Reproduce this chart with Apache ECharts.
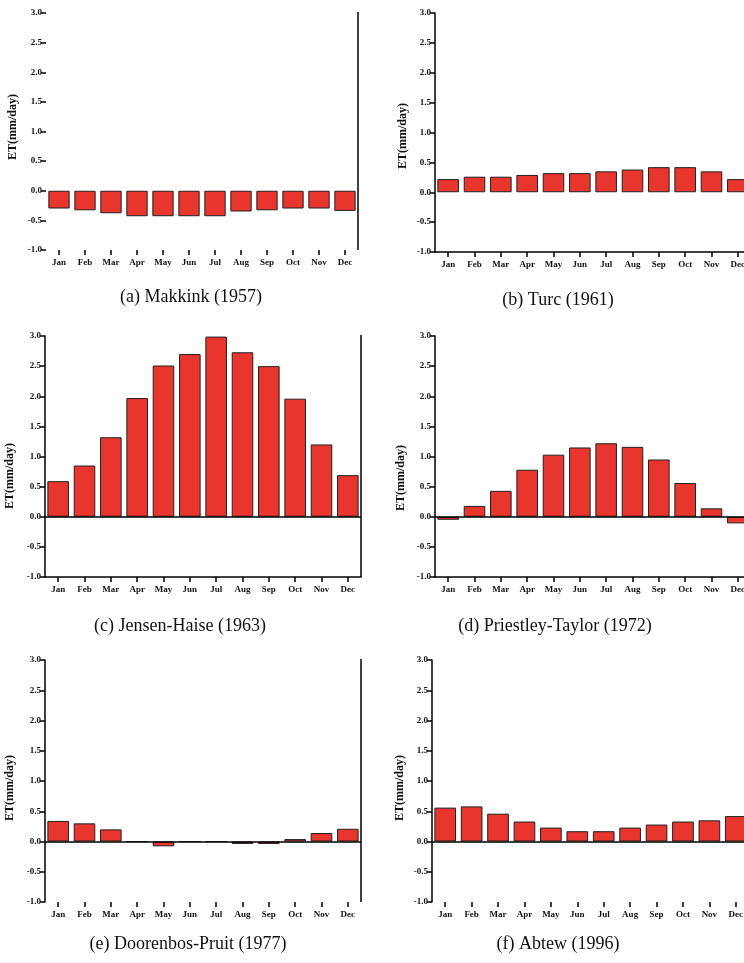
<!DOCTYPE html>
<html>
<head>
<meta charset="utf-8">
<script src="https://cdn.jsdelivr.net/npm/echarts@6/dist/echarts.min.js"></script>
<style>
  html, body { margin: 0; padding: 0; background: #ffffff; }
  #chart { width: 744px; height: 963px; }
</style>
</head>
<body>
<div id="chart"></div>
<script>
// Monthly mean ET (mm/day) by method
const months = ['Jan', 'Feb', 'Mar', 'Apr', 'May', 'Jun', 'Jul', 'Aug', 'Sep', 'Oct', 'Nov', 'Dec'];
const makkink = [-0.30, -0.33, -0.38, -0.43, -0.43, -0.43, -0.43, -0.35, -0.33, -0.30, -0.30, -0.34];
const turc = [0.22, 0.26, 0.26, 0.29, 0.32, 0.32, 0.35, 0.38, 0.42, 0.42, 0.35, 0.22];
const jensenHaise = [0.59, 0.85, 1.32, 1.97, 2.51, 2.70, 2.99, 2.73, 2.50, 1.96, 1.20, 0.69];
const priestleyTaylor = [-0.05, 0.18, 0.43, 0.78, 1.03, 1.15, 1.22, 1.16, 0.95, 0.56, 0.14, -0.11];
const doorenbosPruit = [0.34, 0.30, 0.20, 0.00, -0.08, 0.00, 0.00, -0.04, -0.04, 0.04, 0.14, 0.21];
const abtew = [0.56, 0.58, 0.46, 0.33, 0.23, 0.17, 0.17, 0.23, 0.28, 0.33, 0.35, 0.42];
const captions = ['(a) Makkink (1957)', '(b) Turc (1961)', '(c) Jensen-Haise (1963)',
  '(d) Priestley-Taylor (1972)', '(e) Doorenbos-Pruit (1977)', '(f) Abtew (1996)'];
const yTitle = 'ET(mm/day)';
const yMin = -1.0, yMax = 3.0, yStep = 0.5;

const seriesData = [makkink, turc, jensenHaise, priestleyTaylor, doorenbosPruit, abtew];

// Panel layout (pixels); the right-hand column runs slightly past the page edge
const layout = [
  { grid: { left: 46, top: 13, width: 312, height: 237 }, leftLine: false, bottomLine: false, zeroLine: false, rightLine: true,
    title: [13, 127], caption: [191, 297] },
  { grid: { left: 435, top: 13, width: 316, height: 239 }, leftLine: true, bottomLine: true, zeroLine: false, rightLine: false,
    title: [403, 136], caption: [558, 300] },
  { grid: { left: 45, top: 336, width: 316, height: 241 }, leftLine: true, bottomLine: true, zeroLine: true, rightLine: true,
    title: [10, 476], caption: [180, 626] },
  { grid: { left: 435, top: 336, width: 316, height: 241 }, leftLine: true, bottomLine: true, zeroLine: true, rightLine: false,
    title: [401, 478], caption: [555, 626] },
  { grid: { left: 45, top: 660, width: 316, height: 242 }, leftLine: true, bottomLine: false, zeroLine: true, rightLine: true,
    title: [10, 788], caption: [188, 944] },
  { grid: { left: 432, top: 660, width: 317, height: 242 }, leftLine: true, bottomLine: false, zeroLine: true, rightLine: false,
    title: [400, 788], caption: [558, 944] }
];

const serif = 'Liberation Serif, Times New Roman, serif';
const barRed = '#e8352d';

const grids = [], xAxes = [], yAxes = [], series = [], graphics = [];

layout.forEach((p, i) => {
  grids.push(Object.assign({ containLabel: false, outerBoundsMode: 'none' }, p.grid));

  xAxes.push({
    type: 'category', gridIndex: i, data: months, position: 'bottom',
    axisLine: { show: p.bottomLine, onZero: false, lineStyle: { color: '#000', width: 1.5 } },
    axisTick: { show: true, alignWithLabel: true, length: 5, lineStyle: { color: '#000', width: 1.5 } },
    axisLabel: { color: '#111', fontFamily: serif, fontSize: 9, fontWeight: 'bold', margin: 8, interval: 0,
      hideOverlap: false },
    splitLine: { show: false }
  });

  yAxes.push({
    type: 'value', gridIndex: i, min: yMin, max: yMax, interval: yStep, position: 'left',
    axisLine: { show: p.leftLine, lineStyle: { color: '#000', width: 1.5 } },
    axisTick: { show: true, length: 5, lineStyle: { color: '#000', width: 1.5 } },
    axisLabel: { color: '#111', fontFamily: serif, fontSize: 9, fontWeight: 'bold', margin: 4,
      formatter: v => v.toFixed(1) },
    splitLine: { show: false }
  });

  const s = {
    type: 'bar', xAxisIndex: i, yAxisIndex: i, data: seriesData[i],
    barCategoryGap: '18%',
    itemStyle: { color: barRed, borderColor: '#222', borderWidth: 1 },
    silent: true
  };
  if (p.zeroLine) {
    s.markLine = {
      silent: true, symbol: 'none', label: { show: false },
      lineStyle: { color: '#000', width: 1.5, type: 'solid' },
      data: [{ yAxis: 0 }]
    };
  }
  series.push(s);

  if (p.rightLine) {
    graphics.push({
      type: 'line',
      shape: { x1: p.grid.left + p.grid.width, y1: p.grid.top - 1, x2: p.grid.left + p.grid.width, y2: p.grid.top + p.grid.height },
      style: { stroke: '#000', lineWidth: 1.5 }
    });
  }

  graphics.push({
    type: 'text', x: p.title[0], y: p.title[1], rotation: Math.PI / 2,
    style: { text: yTitle, fill: '#111', font: 'bold 12px ' + serif, textAlign: 'center', textVerticalAlign: 'middle' }
  });

  graphics.push({
    type: 'text', x: p.caption[0], y: p.caption[1],
    style: { text: captions[i], fill: '#111', font: '18px ' + serif, textAlign: 'center', textVerticalAlign: 'middle' }
  });
});

const chart = echarts.init(document.getElementById('chart'), null, { renderer: 'canvas' });
chart.setOption({
  backgroundColor: '#ffffff',
  animation: false,
  grid: grids,
  xAxis: xAxes,
  yAxis: yAxes,
  series: series,
  graphic: graphics
});
</script>
</body>
</html>
